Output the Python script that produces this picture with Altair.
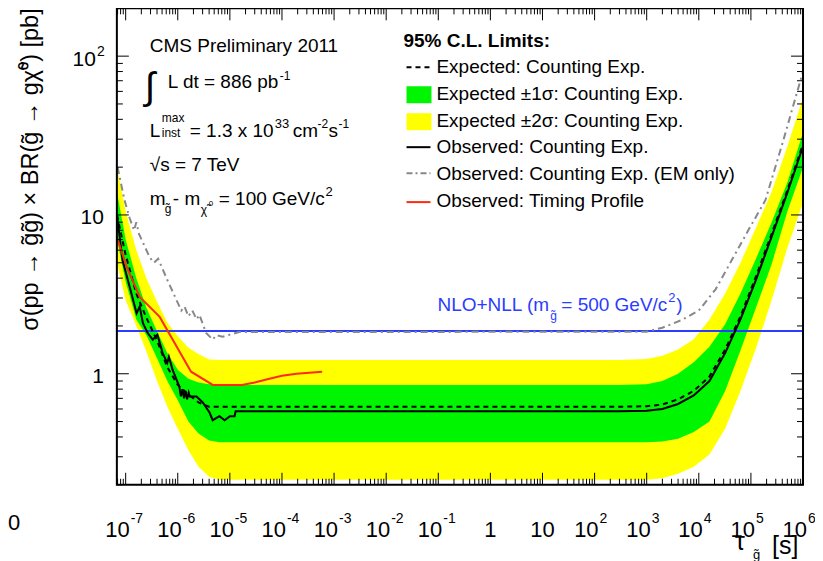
import altair as alt
import pandas as pd

# ---------------- layout (page pixels) ----------------
X0, Y0 = 117, 8          # page position of the plot-frame origin
W, H = 687, 477          # plot frame size
FONT = "Liberation Sans"
FS = 19                  # main annotation font size

# ---------------- axis domains ----------------
TAU_MIN, TAU_MAX = 6.78e-8, 1e6
SIG_MIN, SIG_MAX = 0.2, 200

# ---------------- data ----------------
band_tau = [6.8e-8, 1e-7, 1.6e-7, 2.5e-7, 4e-7, 6.3e-7, 1e-6, 1.6e-6, 2.5e-6, 4e-6, 6.3e-6, 1e-5,
            300, 1000, 2000, 4000, 8000, 1.6e4, 3.2e4, 6.3e4, 1.25e5, 2.5e5, 5e5, 1e6]
band_2s_hi = [20, 10.5, 6.0, 4.0, 2.84, 2.1, 1.73, 1.46, 1.33, 1.23, 1.22, 1.22,
              1.22, 1.24, 1.3, 1.42, 1.65, 2.2, 3.2, 5.0, 8.3, 14, 27, 55]
band_1s_hi = [14, 7.0, 4.0, 2.6, 1.85, 1.35, 1.06, 0.93, 0.88, 0.86, 0.85, 0.85,
              0.85, 0.86, 0.9, 1.0, 1.18, 1.48, 2.05, 3.2, 5.3, 9.0, 16, 33]
band_1s_lo = [7.0, 3.8, 2.2, 1.75, 1.25, 0.9, 0.68, 0.5, 0.42, 0.38, 0.37, 0.37,
              0.37, 0.37, 0.375, 0.39, 0.43, 0.5, 0.78, 1.4, 2.6, 4.9, 10.5, 20]
band_2s_lo = [5.0, 2.9, 2.0, 1.38, 0.9, 0.62, 0.45, 0.33, 0.26, 0.225, 0.215, 0.215,
              0.215, 0.215, 0.22, 0.235, 0.26, 0.31, 0.45, 0.78, 1.45, 2.9, 6.2, 12]
expected = [10, 5.6, 3.2, 2.25, 1.62, 1.1, 0.85, 0.74, 0.66, 0.62, 0.62, 0.62,
            0.62, 0.625, 0.64, 0.69, 0.78, 0.96, 1.42, 2.3, 4.1, 7.6, 14.3, 28]

obs_tau = [6.8e-8, 8.7e-8, 1.2e-7, 1.62e-7, 1.86e-7, 2.14e-7, 2.63e-7, 3.31e-7, 4.07e-7, 5.13e-7,
           6.3e-7, 6.76e-7, 7.94e-7, 1.07e-6, 1.15e-6, 1.23e-6, 1.32e-6, 1.41e-6, 1.51e-6, 1.62e-6,
           1.7e-6, 2.29e-6, 3.02e-6, 4.07e-6, 4.68e-6, 6.3e-6, 7.94e-6, 1e-5, 1.23e-5, 1.29e-5,
           300, 1000, 2000, 4000, 8000, 1.6e4, 3.2e4, 6.3e4, 1.25e5, 2.5e5, 5e5, 1e6]
obs_val = [10, 5.2, 3.5, 2.4, 2.65, 2.09, 1.81, 1.64, 1.76, 1.35,
           1.17, 1.28, 1.06, 0.83, 0.72, 0.80, 0.70, 0.78, 0.69, 0.76,
           0.72, 0.72, 0.66, 0.57, 0.51, 0.54, 0.51, 0.54, 0.54, 0.58,
           0.58, 0.585, 0.6, 0.645, 0.73, 0.9, 1.35, 2.2, 3.9, 7.3, 13.8, 27]

em_tau = [7e-8, 9.5e-8, 1.2e-7, 1.45e-7, 1.6e-7, 1.8e-7, 2.9e-7, 3.5e-7, 4.2e-7, 6.3e-7,
          9.5e-7, 1.17e-6, 1.35e-6, 1.6e-6, 1.9e-6, 2.3e-6, 2.6e-6, 3.5e-6, 4.7e-6, 5.5e-6,
          7.2e-6, 1.5e-5, 1000, 2000, 4700, 1e4, 2.1e4, 4.3e4, 8.9e4, 1.9e5, 4e5, 1e6]
em_val = [20, 12.4, 9.5, 8.0, 9.0, 7.6, 5.4, 5.0, 5.3, 3.9,
          2.9, 2.5, 2.65, 2.3, 2.5, 2.2, 2.35, 1.81, 1.64, 1.75,
          1.71, 1.83, 1.84, 1.95, 2.18, 2.5, 3.4, 5.2, 8.0, 12.4, 28, 80]

timing_tau = [6.8e-8, 1.05e-7, 1.86e-7, 4.5e-7, 1.8e-6, 4.7e-6, 1.7e-5, 3e-5, 5e-5, 1e-4, 1.9e-4, 5.9e-4]
timing_val = [7.2, 4.7, 3.05, 2.28, 1.03, 0.85, 0.85, 0.88, 0.92, 0.97, 1.0, 1.03]

nlo_tau = [TAU_MIN, TAU_MAX]
nlo_val = [1.86, 1.86]

# tick values / labels
x_major = [1e-7, 1e-6, 1e-5, 1e-4, 1e-3, 1e-2, 1e-1, 1, 10, 100, 1e3, 1e4, 1e5, 1e6]
x_pow_tau = [1e-7, 1e-6, 1e-5, 1e-4, 1e-3, 1e-2, 1e-1, 100, 1e3, 1e4, 1e5, 1e6]
x_pow_exp = ["-7", "-6", "-5", "-4", "-3", "-2", "-1", "2", "3", "4", "5", "6"]
x_plain_tau = [1, 10]
x_plain_txt = ["1", "10"]
y_major = [1, 10, 100]
y_plain_val = [1, 10]
y_plain_txt = ["1", "10"]
y_pow_val = [100]
y_pow_exp = ["2"]

x_minor = [m * 10.0 ** e for e in range(-8, 6) for m in range(2, 10)
           if TAU_MIN <= m * 10.0 ** e <= TAU_MAX]
y_minor = [m * 10.0 ** e for e in range(-1, 3) for m in range(2, 10)
           if SIG_MIN <= m * 10.0 ** e <= SIG_MAX]

# colours
YELLOW, GREEN, BLUE, RED, GRAY = "#ffff00", "#00f500", "#2a3cff", "#ff2a10", "#888888"

# ---------------- scales ----------------
xs = alt.Scale(type="log", domain=[TAU_MIN, TAU_MAX])
ys = alt.Scale(type="log", domain=[SIG_MIN, SIG_MAX])


def X(f):
    return alt.X(f, type="quantitative", scale=xs, axis=None)


def Y(f):
    return alt.Y(f, type="quantitative", scale=ys, axis=None)


band = pd.DataFrame({"tau": band_tau, "y2lo": band_2s_lo, "y1lo": band_1s_lo,
                     "y1hi": band_1s_hi, "y2hi": band_2s_hi, "exp": expected})

layers = []
layers.append(alt.Chart(band).mark_area(color=YELLOW, clip=True).encode(
    x=X("tau"), y=Y("y2lo"), y2="y2hi"))
layers.append(alt.Chart(band).mark_area(color=GREEN, clip=True).encode(
    x=X("tau"), y=Y("y1lo"), y2="y1hi"))
layers.append(alt.Chart(pd.DataFrame({"tau": nlo_tau, "v": nlo_val})).mark_line(
    color=BLUE, strokeWidth=2, clip=True).encode(x=X("tau"), y=Y("v")))
layers.append(alt.Chart(pd.DataFrame({"tau": em_tau, "v": em_val})).mark_line(
    color=GRAY, strokeWidth=2, strokeDash=[7, 4, 2, 4], clip=True).encode(x=X("tau"), y=Y("v")))
layers.append(alt.Chart(band).mark_line(
    color="black", strokeWidth=2, strokeDash=[5, 4], clip=True).encode(x=X("tau"), y=Y("exp")))
layers.append(alt.Chart(pd.DataFrame({"tau": obs_tau, "v": obs_val})).mark_line(
    color="black", strokeWidth=2, clip=True).encode(x=X("tau"), y=Y("v")))
layers.append(alt.Chart(pd.DataFrame({"tau": timing_tau, "v": timing_val})).mark_line(
    color=RED, strokeWidth=2, clip=True).encode(x=X("tau"), y=Y("v")))

# ---------------- inside ticks on all four sides ----------------
for vals, ln in ((x_major, 12), (x_minor, 6)):
    d = pd.DataFrame({"v": vals})
    layers.append(alt.Chart(d).mark_rule(color="black", strokeWidth=1).encode(
        x=X("v"), y=alt.value(H), y2=alt.value(H - ln)))
    layers.append(alt.Chart(d).mark_rule(color="black", strokeWidth=1).encode(
        x=X("v"), y=alt.value(0), y2=alt.value(ln)))
for vals, ln in ((y_major, 12), (y_minor, 6)):
    d = pd.DataFrame({"v": vals})
    layers.append(alt.Chart(d).mark_rule(color="black", strokeWidth=1).encode(
        y=Y("v"), x=alt.value(0), x2=alt.value(ln)))
    layers.append(alt.Chart(d).mark_rule(color="black", strokeWidth=1).encode(
        y=Y("v"), x=alt.value(W), x2=alt.value(W - ln)))

# frame
layers.append(alt.Chart(pd.DataFrame({"a": [0]})).mark_rect(
    filled=False, stroke="black", strokeWidth=2).encode(
    x=alt.value(0), x2=alt.value(W), y=alt.value(0), y2=alt.value(H)))

# ---------------- tick labels ----------------
XL_BASE = 530 - Y0
XFS = 22
d = pd.DataFrame({"v": x_pow_tau, "e": x_pow_exp})
layers.append(alt.Chart(d).mark_text(align="right", dx=4, fontSize=XFS, font=FONT).encode(
    x=X("v"), y=alt.value(XL_BASE), text=alt.value("10")))
layers.append(alt.Chart(d).mark_text(align="left", dx=5, fontSize=14, font=FONT).encode(
    x=X("v"), y=alt.value(XL_BASE - 11), text="e:N"))
d = pd.DataFrame({"v": x_plain_tau, "t": x_plain_txt})
layers.append(alt.Chart(d).mark_text(align="center", fontSize=XFS, font=FONT).encode(
    x=X("v"), y=alt.value(XL_BASE), text="t:N"))

YFS = 21
d = pd.DataFrame({"v": y_plain_val, "t": y_plain_txt})
layers.append(alt.Chart(d).mark_text(align="right", baseline="middle", dy=3, fontSize=YFS, font=FONT).encode(
    y=Y("v"), x=alt.value(104 - X0), text="t:N"))
d = pd.DataFrame({"v": y_pow_val, "e": y_pow_exp})
layers.append(alt.Chart(d).mark_text(align="right", baseline="middle", dy=4, fontSize=YFS, font=FONT).encode(
    y=Y("v"), x=alt.value(96 - X0), text=alt.value("10")))
layers.append(alt.Chart(d).mark_text(align="left", baseline="middle", dy=-4, fontSize=14, font=FONT).encode(
    y=Y("v"), x=alt.value(97 - X0), text="e:N"))


# ---------------- annotation texts (page coordinates) ----------------
def txt(s, px, py, size=FS, align="left", color="black", weight="normal", angle=0):
    return alt.Chart(pd.DataFrame({"a": [0]})).mark_text(
        text=s, align=align, baseline="alphabetic", fontSize=size, font=FONT,
        color=color, fontWeight=weight, angle=angle).encode(
        x=alt.value(px - X0), y=alt.value(py - Y0))


annotations = [
    # stray label fragment at far left
    txt("0", 8, 530, size=XFS),
    # y-axis title
    txt("σ(pp → g̃g̃) × BR(g̃ → gχ̃⁰) [pb]", 38, 8, size=23.5, align="right", angle=270),
    # x-axis title
    txt("τ", 736, 550, size=25),
    txt("g̃", 754, 559, size=13),
    txt("[s]", 773, 554, size=25),
    # left info block
    txt("CMS Preliminary 2011", 150, 52),
    txt("∫", 145, 99, size=38),
    txt("L dt = 886 pb", 168, 88),
    txt("-1", 280, 80, size=12),
    txt("L", 150, 137),
    txt("max", 162, 122, size=12),
    txt("inst", 162, 137, size=12),
    txt("= 1.3 x 10", 190, 137),
    txt("33", 275, 128, size=13),
    txt("cm", 293, 137),
    txt("-2", 318, 128, size=12),
    txt("s", 329, 137),
    txt("-1", 339, 128, size=12),
    txt("√s = 7 TeV", 150, 171),
    txt("m", 150, 205),
    txt("g̃", 165, 213, size=12),
    txt("- m", 173, 205),
    txt("χ̃", 201, 214, size=12),
    txt("0", 209, 206, size=8),
    txt("= 100 GeV/c", 219, 205),
    txt("2", 326, 196, size=13),
    # NLO label
    txt("NLO+NLL (m", 438, 311, color=BLUE),
    txt("g̃", 551, 320, size=12, color=BLUE),
    txt("= 500 GeV/c", 562, 311, color=BLUE),
    txt("2", 669, 302, size=13, color=BLUE),
    txt(")", 677, 311, color=BLUE),
    # legend
    txt("95% C.L. Limits:", 404, 47, weight="bold"),
    txt("Expected: Counting Exp.", 437, 73),
    txt("Expected ±1σ: Counting Exp.", 437, 100),
    txt("Expected ±2σ: Counting Exp.", 437, 127),
    txt("Observed: Counting Exp.", 437, 153),
    txt("Observed: Counting Exp. (EM only)", 437, 180),
    txt("Observed: Timing Profile", 437, 207),
]
layers.extend(annotations)


def seg(py, color, dash=None, width=2):
    kw = dict(color=color, strokeWidth=width)
    if dash:
        kw["strokeDash"] = dash
    return alt.Chart(pd.DataFrame({"a": [0]})).mark_rule(**kw).encode(
        x=alt.value(407 - X0), x2=alt.value(431 - X0), y=alt.value(py - Y0))


def box(py0, py1, color):
    return alt.Chart(pd.DataFrame({"a": [0]})).mark_rect(color=color).encode(
        x=alt.value(407 - X0), x2=alt.value(432 - X0),
        y=alt.value(py0 - Y0), y2=alt.value(py1 - Y0))


layers += [
    seg(67, "black", [5, 4]),
    box(86, 103, GREEN),
    box(113, 130, YELLOW),
    seg(147, "black"),
    seg(173, GRAY, [6, 3, 2, 3]),
    seg(202, RED),
]

chart = alt.layer(*layers).properties(
    width=W, height=H,
    autosize=alt.AutoSizeParams(type="none"),
    padding={"left": X0 - 8, "top": Y0 - 8, "right": 12, "bottom": 76},
).configure_view(stroke=None).configure_text(font=FONT)

chart.save("out.html", embed_options={"renderer": "svg", "actions": False})
